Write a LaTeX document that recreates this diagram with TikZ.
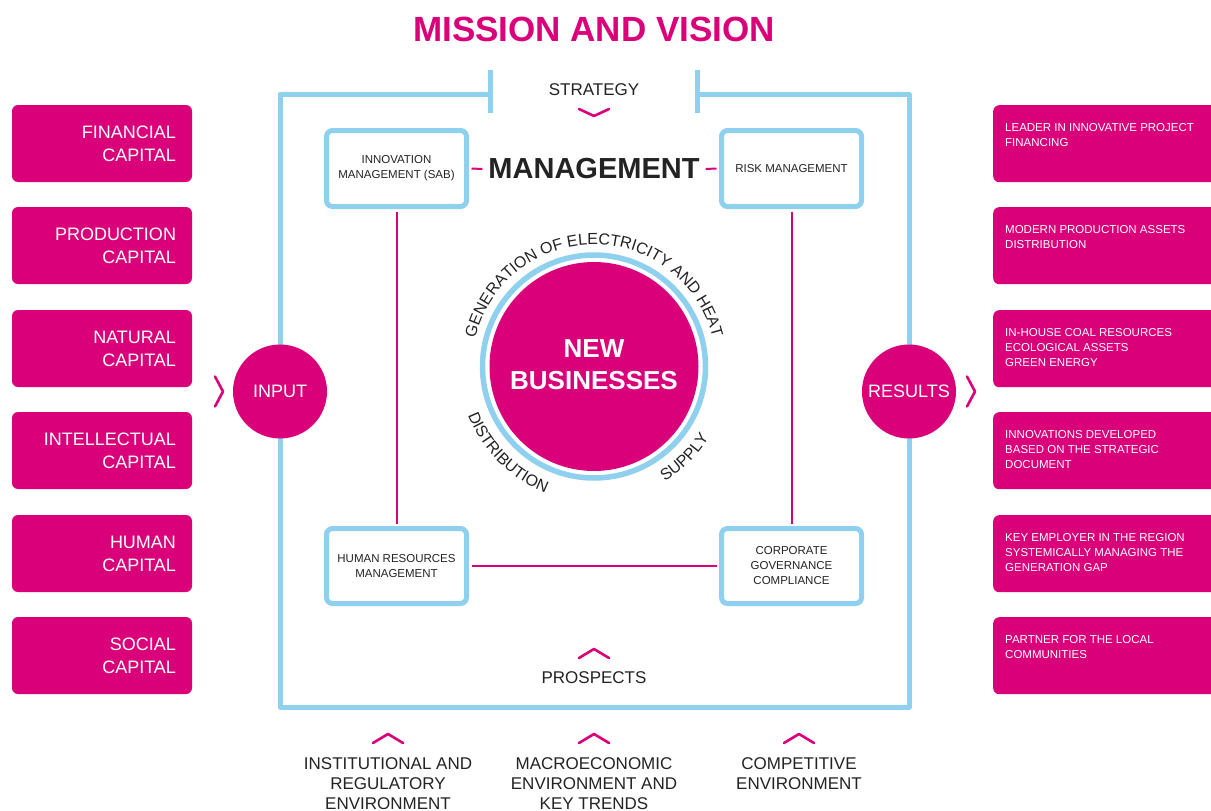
\documentclass[tikz,border=0pt]{standalone}
\usepackage{fontspec}
\setmainfont{Liberation Sans}
\usetikzlibrary{decorations.text}
\definecolor{mag}{RGB}{218,0,122}
\definecolor{sky}{RGB}{143,208,238}
\definecolor{ink}{RGB}{35,35,35}
\begin{document}
\begin{tikzpicture}[x=1pt,y=1pt,
  capbox/.style={fill=mag, rounded corners=6pt, minimum width=180pt, minimum height=77pt,
    text width=148pt, inner xsep=16pt, align=right, text=white, font=\fontsize{18}{23}\selectfont},
  resbox/.style={fill=mag, rounded corners=6pt, minimum width=240pt, minimum height=77pt,
    anchor=north west, inner sep=0pt},
  restext/.style={anchor=north west, inner sep=0pt, text=white, align=left,
    font=\fontsize{11.5}{15}\selectfont},
  mgbox/.style={draw=sky, line width=5pt, rounded corners=6pt, fill=white, minimum width=140pt,
    text=ink, align=center, font=\fontsize{11.5}{15}\selectfont},
  link/.style={draw=mag, line width=2pt, shorten <=2.5pt, shorten >=2.5pt},
  frameline/.style={draw=sky, line width=5pt, line join=round},
  iocirc/.style={circle, fill=mag, minimum size=94pt, inner sep=0pt, text=white,
    font=\fontsize{18}{18}\selectfont},
  chev/.style={draw=mag, line width=2.6pt, line cap=round, line join=round},
  lbl/.style={text=ink, font=\fontsize{17}{20}\selectfont, align=center, inner sep=0pt},
  arctext/.style={decorate, decoration={text along path, text align=center, text color=ink,
    text={|\fontsize{16}{16}\selectfont|#1}}}
]
\useasboundingbox (0,0) rectangle (1211,-811);
\clip (0,0) rectangle (1211,-811);
\fill[white] (0,0) rectangle (1211,-811);

% title
\node[text=mag, font=\fontsize{35}{35}\selectfont\bfseries, inner sep=0pt] (title) at (594,-29) {MISSION AND VISION};

% frame
\draw[frameline] (490,-94) -- (280,-94) -- (280,-707) -- (909,-707) -- (909,-94) -- (697,-94);
\draw[frameline] (490,-70) -- (490,-113);
\draw[frameline] (697,-70) -- (697,-113);

% strategy / prospects
\node[lbl] (strat) at (594,-90) {STRATEGY};
\draw[chev] ([xshift=-15pt,yshift=-19pt]strat.center) -- ([yshift=-26pt]strat.center) -- ([xshift=15pt,yshift=-19pt]strat.center);
\node[lbl] (prosp) at (594,-678) {PROSPECTS};
\draw[chev] ([xshift=-15pt,yshift=20pt]prosp.center) -- ([yshift=29pt]prosp.center) -- ([xshift=15pt,yshift=20pt]prosp.center);

% management boxes
\node[mgbox, minimum height=76pt] (innov) at (396.5,-168.5) {INNOVATION\\MANAGEMENT (SAB)};
\node[mgbox, minimum height=76pt] (risk) at (791.5,-168.5) {RISK MANAGEMENT};
\node[mgbox, minimum height=75pt] (hr) at (396.5,-566) {HUMAN RESOURCES\\MANAGEMENT};
\node[mgbox, minimum height=75pt] (cg) at (791.5,-566) {CORPORATE\\GOVERNANCE\\COMPLIANCE};
\node[text=ink, font=\fontsize{29}{29}\selectfont\bfseries, inner xsep=3.5pt] (mg) at (594,-169) {MANAGEMENT};
\draw[link] (innov.east) -- (mg.west);
\draw[link] (risk.west) -- (mg.east);
\draw[link] (innov.south) -- (hr.north);
\draw[link] (risk.south) -- (cg.north);
\draw[link] (hr.east) -- (cg.west);

% central circle
\coordinate (c) at (594,-366.5);
\draw[sky, line width=5.5pt] (c) circle[radius=111.5pt];
\node[circle, fill=mag, minimum size=209pt, inner sep=0pt] (nb) at (c) {};
\node[text=white, font=\fontsize{26}{32}\selectfont\bfseries, align=center, inner sep=0pt] (nbt) at (594,-365) {NEW\\BUSINESSES};
\path[arctext={GENERATION OF ELECTRICITY AND HEAT}] ([shift={(179:122pt)}]c) arc[start angle=179, end angle=1, radius=122pt];
\path[arctext={DISTRIBUTION}] ([shift={(180:135pt)}]c) arc[start angle=180, end angle=270, radius=135pt];
\path[arctext={SUPPLY}] ([shift={(270:135pt)}]c) arc[start angle=270, end angle=360, radius=135pt];

% input / results
\node[iocirc] (in) at (280,-391.5) {INPUT};
\node[iocirc] (out) at (909,-391.5) {RESULTS};
\draw[chev] ([xshift=-65pt,yshift=15pt]in.center) -- ([xshift=-57pt]in.center) -- ([xshift=-65pt,yshift=-15pt]in.center);
\draw[chev] ([xshift=58pt,yshift=15pt]out.center) -- ([xshift=66pt]out.center) -- ([xshift=58pt,yshift=-15pt]out.center);

% capitals
\node[capbox] (c1) at (102,-143.5) {FINANCIAL\\CAPITAL};
\node[capbox] (c2) at (102,-245.5) {PRODUCTION\\CAPITAL};
\node[capbox] (c3) at (102,-348.5) {NATURAL\\CAPITAL};
\node[capbox] (c4) at (102,-450.5) {INTELLECTUAL\\CAPITAL};
\node[capbox] (c5) at (102,-553.5) {HUMAN\\CAPITAL};
\node[capbox] (c6) at (102,-655.5) {SOCIAL\\CAPITAL};

% results boxes
\node[resbox] (r1) at (993,-105) {};
\node[resbox] (r2) at (993,-207) {};
\node[resbox] (r3) at (993,-310) {};
\node[resbox] (r4) at (993,-412) {};
\node[resbox] (r5) at (993,-515) {};
\node[resbox] (r6) at (993,-617) {};
\node[restext] (t1) at ([xshift=12pt,yshift=-18pt]r1.north west) {LEADER IN INNOVATIVE PROJECT\\FINANCING};
\node[restext] (t2) at ([xshift=12pt,yshift=-18pt]r2.north west) {MODERN PRODUCTION ASSETS\\DISTRIBUTION};
\node[restext] (t3) at ([xshift=12pt,yshift=-18pt]r3.north west) {IN-HOUSE COAL RESOURCES\\ECOLOGICAL ASSETS\\GREEN ENERGY};
\node[restext] (t4) at ([xshift=12pt,yshift=-18pt]r4.north west) {INNOVATIONS DEVELOPED\\BASED ON THE STRATEGIC\\DOCUMENT};
\node[restext] (t5) at ([xshift=12pt,yshift=-18pt]r5.north west) {KEY EMPLOYER IN THE REGION\\SYSTEMICALLY MANAGING THE\\GENERATION GAP};
\node[restext] (t6) at ([xshift=12pt,yshift=-18pt]r6.north west) {PARTNER FOR THE LOCAL\\COMMUNITIES};

% environment labels
\node[lbl, anchor=north] (e1) at (388,-757) {INSTITUTIONAL AND\\REGULATORY\\ENVIRONMENT};
\node[lbl, anchor=north] (e2) at (594,-757) {MACROECONOMIC\\ENVIRONMENT AND\\KEY TRENDS};
\node[lbl, anchor=north] (e3) at (799,-757) {COMPETITIVE\\ENVIRONMENT};
\foreach \e in {e1,e2,e3}{
  \draw[chev] ([xshift=-15pt,yshift=14pt]\e.north) -- ([yshift=23pt]\e.north) -- ([xshift=15pt,yshift=14pt]\e.north);
}
\end{tikzpicture}
\end{document}
